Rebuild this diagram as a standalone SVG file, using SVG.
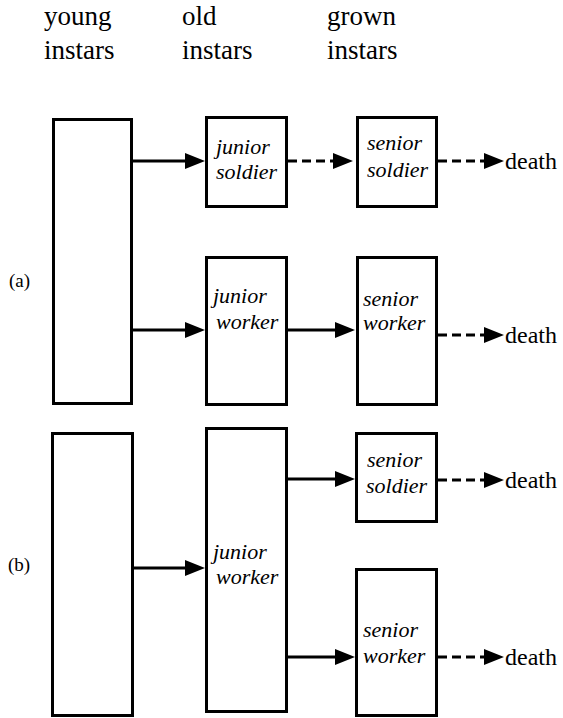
<svg xmlns="http://www.w3.org/2000/svg" width="563" height="718" viewBox="0 0 563 718" font-family="'Liberation Serif', 'DejaVu Serif', serif">
  <style>
    text { font-family: "Liberation Serif", "DejaVu Serif", serif; fill: #000; }
    .box { fill: #fff; stroke: #000; stroke-width: 3; }
    .lbl { font-style: italic; font-size: 22px; }
    .hdr { font-size: 27px; }
    .end { font-size: 24px; }
    .tag { font-size: 19px; }
    .edge { stroke: #000; stroke-width: 3; fill: none; marker-end: url(#head); }
    .dash { stroke-dasharray: 9 5; }
  </style>
  <defs>
    <marker id="head" markerUnits="userSpaceOnUse" markerWidth="20" markerHeight="18" refX="0" refY="9" orient="auto" overflow="visible">
      <path d="M0,1 L20,9 L0,17 z" fill="#000"/>
    </marker>
  </defs>
  <rect width="563" height="718" fill="#fff"/>

  <!-- column headings -->
  <g id="headings">
    <text class="hdr" x="44" y="25">young</text>
    <text class="hdr" x="44" y="59">instars</text>
    <text class="hdr" x="182" y="25">old</text>
    <text class="hdr" x="182" y="59">instars</text>
    <text class="hdr" x="327" y="25">grown</text>
    <text class="hdr" x="327" y="59">instars</text>
  </g>

  <text class="tag" x="9" y="287">(a)</text>
  <text class="tag" x="8" y="571">(b)</text>

  <!-- panel (a) -->
  <g id="a-young"><rect class="box" x="53.5" y="119.5" width="78" height="284"/></g>
  <g id="a-junior-soldier">
    <rect class="box" x="206.5" y="117.5" width="80" height="89"/>
    <text class="lbl" x="216" y="154">junior</text>
    <text class="lbl" x="216" y="179">soldier</text>
  </g>
  <g id="a-junior-worker">
    <rect class="box" x="206.5" y="257.5" width="80" height="147"/>
    <text class="lbl" x="213" y="303">junior</text>
    <text class="lbl" x="216" y="329">worker</text>
  </g>
  <g id="a-senior-soldier">
    <rect class="box" x="357.5" y="117.5" width="79" height="89"/>
    <text class="lbl" x="367" y="150">senior</text>
    <text class="lbl" x="367" y="177">soldier</text>
  </g>
  <g id="a-senior-worker">
    <rect class="box" x="357.5" y="257.5" width="79" height="147"/>
    <text class="lbl" x="363" y="306">senior</text>
    <text class="lbl" x="363" y="330">worker</text>
  </g>
  <text class="end" x="505" y="169">death</text>
  <text class="end" x="505" y="343">death</text>

  <!-- panel (b) -->
  <g id="b-young"><rect class="box" x="52.5" y="433.5" width="80" height="282"/></g>
  <g id="b-junior-worker">
    <rect class="box" x="206.5" y="428.5" width="80" height="283"/>
    <text class="lbl" x="213" y="559">junior</text>
    <text class="lbl" x="216" y="584">worker</text>
  </g>
  <g id="b-senior-soldier">
    <rect class="box" x="356.5" y="433.5" width="80" height="88"/>
    <text class="lbl" x="367" y="467">senior</text>
    <text class="lbl" x="366" y="493">soldier</text>
  </g>
  <g id="b-senior-worker">
    <rect class="box" x="356.5" y="569.5" width="80" height="146"/>
    <text class="lbl" x="363" y="637">senior</text>
    <text class="lbl" x="363" y="663">worker</text>
  </g>
  <text class="end" x="505" y="488">death</text>
  <text class="end" x="505" y="665">death</text>

  <!-- connectors -->
  <g id="connectors">
    <line class="edge" x1="133" y1="161" x2="185" y2="161"/>
    <line class="edge" x1="133" y1="330" x2="185" y2="330"/>
    <line class="edge dash" x1="288" y1="161" x2="333" y2="161"/>
    <line class="edge" x1="288" y1="330" x2="335" y2="330"/>
    <line class="edge dash" x1="438" y1="161" x2="484" y2="161"/>
    <line class="edge dash" x1="438" y1="335" x2="484" y2="335"/>
    <line class="edge" x1="134" y1="568" x2="185" y2="568"/>
    <line class="edge" x1="288" y1="479" x2="335" y2="479"/>
    <line class="edge" x1="288" y1="657" x2="335" y2="657"/>
    <line class="edge dash" x1="438" y1="480" x2="484" y2="480"/>
    <line class="edge dash" x1="438" y1="657" x2="484" y2="657"/>
  </g>
</svg>
